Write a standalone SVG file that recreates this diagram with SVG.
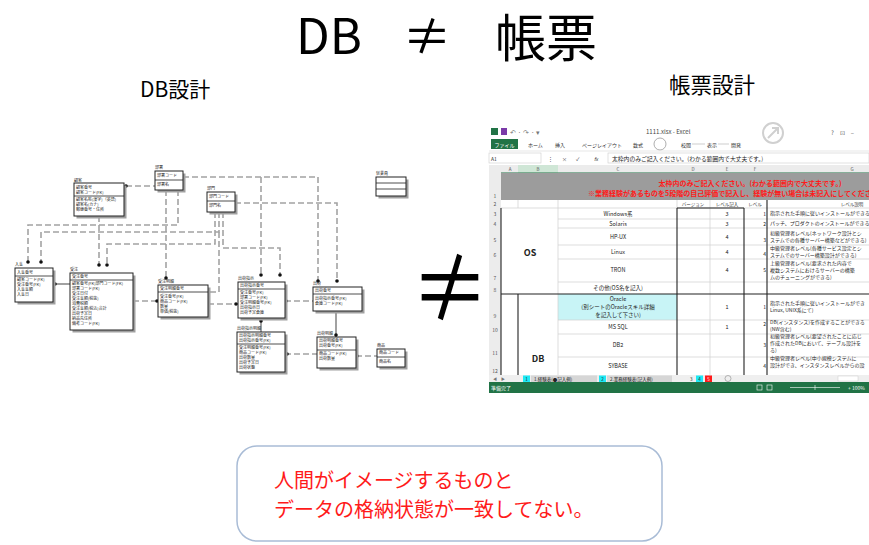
<svg xmlns="http://www.w3.org/2000/svg" width="869" height="545" viewBox="0 0 869 545">
<style>
text{font-family:"Noto Sans CJK JP","Noto Sans",sans-serif}
.ent .s{fill:#a0a0a0}
.ent .b{fill:#fff;stroke:#222;stroke-width:1}
.ent line{stroke:#222;stroke-width:0.8}
.ent text{font-size:4px;fill:#222}
#connectors path{fill:none;stroke:#a3a3a3;stroke-width:1.6;stroke-dasharray:6 3}
#connectors path.sd{stroke-dasharray:none;stroke:#8a8a8a}
#connectors circle{fill:#111}
.xl{font-size:5px;fill:#333}
.xc{font-size:5.5px;fill:#222;text-anchor:middle}
.xg{font-size:5px;fill:#2a2a2a}
.g{stroke:#cfcfcf;stroke-width:0.7}
.k{stroke:#222;stroke-width:1.1}
.rn{font-size:5px;fill:#555;text-anchor:middle}
</style>

<!-- Title -->
<g id="title">
<text x="296" y="54" font-size="49" fill="#000">DB</text>
<text x="427" y="54" font-size="49" fill="#000" text-anchor="middle">≠</text>
<text x="495" y="57" font-size="51" fill="#000">帳票</text>
</g>
<text x="140" y="97" font-size="21" fill="#000">DB設計</text>
<text x="669" y="93" font-size="21.5" fill="#000">帳票設計</text>

<!-- Connectors of ER diagram -->
<g id="connectors">
<path d="M126 186 H155"/>
<path d="M183 177 H318 V282"/>
<path d="M261 177 V275"/>
<path d="M235 203 H337 V282"/>
<path d="M166 190 V278"/>
<path d="M178 190 V225 H28 V262"/>
<path d="M219 212 V232 H41 V262"/>
<path d="M215 212 V244 H107 V265"/>
<path d="M99 216 V265"/>
<path d="M219 232 V292 H208"/>
<path d="M223 212 V248 H280 V275"/>
<path class="sd" d="M53 284 H70"/>
<path d="M133 301 H158"/>
<path d="M208 304 H238"/>
<path d="M285 301 H313"/>
<path class="sd" d="M261 318 V332"/>
<path class="sd" d="M336 311 V337"/>
<path d="M285 354 H317"/>
<path d="M356 356 H377"/>
<circle cx="126" cy="186" r="1.8"/>
<circle cx="318" cy="281" r="1.8"/>
<circle cx="261" cy="275" r="1.8"/>
<circle cx="337" cy="281" r="1.8"/>
<circle cx="166" cy="278" r="1.8"/>
<circle cx="28" cy="262" r="1.8"/>
<circle cx="41" cy="262" r="1.8"/>
<circle cx="107" cy="265" r="1.8"/>
<circle cx="99" cy="265" r="1.8"/>
<circle cx="208" cy="292" r="1.8"/>
<circle cx="280" cy="275" r="1.8"/>
<circle cx="55" cy="284" r="1.8"/>
<circle cx="157" cy="301" r="1.8"/>
<circle cx="236" cy="304" r="1.8"/>
<circle cx="286" cy="301" r="1.8"/>
<circle cx="261" cy="321" r="1.8"/>
<circle cx="336" cy="335" r="1.8"/>
<circle cx="287" cy="354" r="1.8"/>
<circle cx="357" cy="356" r="1.8"/>
</g>

<!-- ER entities -->
<g id="ent-a" class="ent">
<text x="74" y="182">顧客</text>
<rect class="s" x="76.5" y="185.5" width="50" height="33"/>
<rect class="b" x="74" y="183" width="50" height="33"/>
<text x="76" y="189">顧客番号</text><text x="76" y="194">顧客コード(FK)</text>
<line x1="74" y1="196" x2="124" y2="196"/>
<text x="76" y="201">顧客名称(漢字)（英語)</text><text x="76" y="206">顧客名(カナ)</text><text x="76" y="211">郵便番号・住所</text>
</g>
<g id="ent-b" class="ent">
<text x="155" y="169">部署</text>
<rect class="s" x="157.5" y="173.5" width="28" height="19"/>
<rect class="b" x="155" y="171" width="28" height="19"/>
<text x="157" y="177">部署コード</text>
<line x1="155" y1="180" x2="183" y2="180"/>
<text x="157" y="186">部署名</text>
</g>
<g id="ent-c" class="ent">
<text x="207" y="190">部門</text>
<rect class="s" x="209.5" y="194.5" width="28" height="20"/>
<rect class="b" x="207" y="192" width="28" height="20"/>
<text x="209" y="198">部門コード</text>
<line x1="207" y1="201" x2="235" y2="201"/>
<text x="209" y="207">部門名</text>
</g>
<g id="ent-d" class="ent">
<text x="15" y="266">入金</text>
<rect class="s" x="17.5" y="270.5" width="38" height="34"/>
<rect class="b" x="15" y="268" width="38" height="34"/>
<text x="17" y="274">入金番号</text>
<line x1="15" y1="276" x2="53" y2="276"/>
<text x="17" y="281">顧客コード(FK)</text><text x="17" y="286">受注番号(FK)</text><text x="17" y="291">入金金額</text><text x="17" y="296">入金日</text>
</g>
<g id="ent-e" class="ent">
<text x="70" y="271">受注</text>
<rect class="s" x="72.5" y="275.5" width="63" height="57"/>
<rect class="b" x="70" y="273" width="63" height="57"/>
<text x="72" y="278">受注番号</text>
<line x1="70" y1="280" x2="133" y2="280"/>
<text x="72" y="285">顧客番号(FK)部門コード(FK)</text><text x="72" y="290">部署コード(FK)</text><text x="72" y="295">受注日付</text><text x="72" y="300">受注金額(税抜)</text><text x="72" y="305">消費税額</text><text x="72" y="310">受注金額(税込)合計</text><text x="72" y="315">出荷予定日</text><text x="72" y="320">納品先住所</text><text x="72" y="325">備考コード(FK)</text>
</g>
<g id="ent-f" class="ent">
<text x="158" y="283">受注明細</text>
<rect class="s" x="160.5" y="287.5" width="50" height="32"/>
<rect class="b" x="158" y="285" width="50" height="32"/>
<text x="160" y="290">受注明細番号</text>
<line x1="158" y1="292" x2="208" y2="292"/>
<text x="160" y="298">受注番号(FK)</text><text x="160" y="303">商品コード(FK)</text><text x="160" y="308">数量</text><text x="160" y="313">単価(税抜)</text>
</g>
<g id="ent-g" class="ent">
<text x="376" y="175">従業員</text>
<rect class="s" x="378.5" y="179.5" width="30" height="19"/>
<rect class="b" x="376" y="177" width="30" height="19"/>
<line x1="376" y1="183" x2="406" y2="183"/>
<line x1="376" y1="189" x2="406" y2="189"/>
</g>
<g id="ent-h" class="ent">
<text x="238" y="280">出荷指示</text>
<rect class="s" x="240.5" y="284.5" width="47" height="36"/>
<rect class="b" x="238" y="282" width="47" height="36"/>
<text x="240" y="287">出荷指示番号</text>
<line x1="238" y1="289" x2="285" y2="289"/>
<text x="240" y="294">受注番号(FK)</text><text x="240" y="299">部署コード(FK)</text><text x="240" y="304">受注明細番号(FK)</text><text x="240" y="309">出荷指示日</text><text x="240" y="314">出荷予定倉庫</text>
</g>
<g id="ent-i" class="ent">
<text x="313" y="285">出荷</text>
<rect class="s" x="315.5" y="289.5" width="49" height="24"/>
<rect class="b" x="313" y="287" width="49" height="24"/>
<text x="315" y="292">出荷番号</text>
<line x1="313" y1="294" x2="362" y2="294"/>
<text x="315" y="300">出荷指示番号(FK)</text><text x="315" y="305">倉庫コード(FK)</text>
</g>
<g id="ent-j" class="ent">
<text x="237" y="330">出荷指示明細</text>
<rect class="s" x="239.5" y="334.5" width="48" height="40"/>
<rect class="b" x="237" y="332" width="48" height="40"/>
<text x="239" y="337">出荷指示明細番号</text><text x="239" y="342">出荷指示番号(FK)</text>
<line x1="237" y1="344" x2="285" y2="344"/>
<text x="239" y="349">受注明細番号(FK)</text><text x="239" y="354">商品コード(FK)</text><text x="239" y="359">出荷数量</text><text x="239" y="364">出荷予定日</text><text x="239" y="369">出荷状態</text>
</g>
<g id="ent-k" class="ent">
<text x="317" y="335">出荷明細</text>
<rect class="s" x="319.5" y="339.5" width="39" height="31"/>
<rect class="b" x="317" y="337" width="39" height="31"/>
<text x="319" y="342">出荷明細番号</text><text x="319" y="347">出荷番号(FK)</text>
<line x1="317" y1="350" x2="356" y2="350"/>
<text x="319" y="355">商品コード(FK)</text><text x="319" y="360">出荷数量</text>
</g>
<g id="ent-l" class="ent">
<text x="377" y="347">商品</text>
<rect class="s" x="379.5" y="351.5" width="28" height="18"/>
<rect class="b" x="377" y="349" width="28" height="18"/>
<text x="379" y="354">商品コード</text>
<line x1="377" y1="357" x2="405" y2="357"/>
<text x="379" y="363">商品名</text>
</g>

<!-- Big not-equal sign -->
<text x="450" y="318" font-size="78" fill="#000" text-anchor="middle" transform="translate(0,-60) scale(1,1.2)">≠</text>

<!-- Spreadsheet screenshot -->
<g id="sheet">
<rect x="489" y="125" width="380" height="268" fill="#fff"/>
<rect x="491" y="128" width="7" height="7" fill="#217346"/>
<rect x="501" y="128" width="6" height="7" fill="#7a3aa8"/>
<text x="510" y="135" font-size="7" fill="#777">↶ · ↷ · ▾</text>
<text x="646" y="134" font-size="6" fill="#444">1111.xlsx - Excel</text>
<circle cx="773" cy="133" r="10" fill="none" stroke="#d0d0d0" stroke-width="2"/>
<path d="M768 138 L778 128 M772 128 H778 V134" fill="none" stroke="#d0d0d0" stroke-width="2"/>
<text x="831" y="135" font-size="6" fill="#555">?　⊡　–</text>
<rect x="491" y="139" width="27" height="10" fill="#217346"/>
<text x="504.5" y="146.5" font-size="5" fill="#fff" text-anchor="middle">ファイル</text>
<text x="528" y="146.5" class="xl">ホーム</text>
<text x="555" y="146.5" class="xl">挿入</text>
<text x="582" y="146.5" class="xl">ページレイアウト</text>
<text x="633" y="146.5" class="xl">数式</text>
<circle cx="660" cy="144" r="6" fill="none" stroke="#999" stroke-width="0.8"/>
<text x="681" y="146.5" class="xl">校閲</text>
<text x="707" y="146.5" class="xl">表示</text>
<text x="731" y="146.5" class="xl">開発</text>
<line x1="692" y1="144" x2="705" y2="144" stroke="#999" stroke-width="0.5"/>
<line x1="718" y1="144" x2="729" y2="144" stroke="#999" stroke-width="0.5"/>
<line x1="489" y1="151" x2="869" y2="151" stroke="#ddd" stroke-width="0.7"/>
<rect x="489" y="153" width="52" height="10" fill="#fff" stroke="#ccc" stroke-width="0.6"/>
<text x="491" y="160.5" class="xl">A1</text>
<text x="548" y="160.5" class="xl">⋮</text>
<text x="562" y="160.5" class="xl">×</text>
<text x="576" y="160.5" class="xl">✓</text>
<text x="594" y="160.5" class="xl" font-style="italic">fx</text>
<rect x="608" y="153" width="261" height="10" fill="#fff" stroke="#ccc" stroke-width="0.6"/>
<text x="612" y="160.5" font-size="5.8" fill="#222">太枠内のみご記入ください。(わかる範囲内で大丈夫です。)</text>
<!-- column headers -->
<rect x="489" y="165" width="380" height="8" fill="#ececec"/>
<rect x="518" y="165" width="40" height="8" fill="#cfe6d6"/>
<line x1="501" y1="173" x2="869" y2="173" stroke="#217346" stroke-width="1"/>
<g font-size="4.5" fill="#555" text-anchor="middle">
<text x="510" y="171">A</text><text x="538" y="171">B</text><text x="618" y="171">C</text><text x="693" y="171">D</text><text x="727" y="171">E</text><text x="755" y="171">F</text><text x="852" y="171">G</text>
</g>
<!-- row headers -->
<rect x="489" y="173" width="12" height="202" fill="#ececec"/>
<g class="rn">
<text x="495" y="198">1</text><text x="495" y="206">2</text><text x="495" y="216">3</text><text x="495" y="226">4</text><text x="495" y="242">5</text><text x="495" y="257">6</text><text x="495" y="280">7</text><text x="495" y="292">8</text><text x="495" y="318">9</text><text x="495" y="332">10</text><text x="495" y="355">11</text><text x="495" y="373">12</text>
</g>
<!-- row 1 banner -->
<rect x="501" y="173" width="368" height="27" fill="#9c9c9c"/>
<text x="750" y="185.5" font-size="7" font-weight="bold" fill="#ff1a1a" text-anchor="middle">太枠内のみご記入ください。(わかる範囲内で大丈夫です。)</text>
<text x="588" y="196" font-size="7" font-weight="bold" fill="#ff1a1a">※業務経験があるものを5段階の自己評価で記入し、経験が無い場合は未記入にしてください。</text>
<!-- cyan cell -->
<rect x="558" y="294" width="119" height="26" fill="#c8f4f6"/>
<!-- grid lines -->
<g class="g">
<line x1="501" y1="208" x2="869" y2="208"/>
<line x1="558" y1="219" x2="869" y2="219"/>
<line x1="558" y1="228" x2="869" y2="228"/>
<line x1="558" y1="245" x2="869" y2="245"/>
<line x1="558" y1="259" x2="869" y2="259"/>
<line x1="558" y1="282" x2="869" y2="282"/>
<line x1="558" y1="320" x2="869" y2="320"/>
<line x1="558" y1="334" x2="869" y2="334"/>
<line x1="558" y1="357" x2="869" y2="357"/>
<line x1="518" y1="200" x2="518" y2="208"/>
<line x1="558" y1="200" x2="558" y2="375"/>
<line x1="710" y1="200" x2="710" y2="375"/>
<line x1="677" y1="200" x2="677" y2="208"/>
</g>
<g class="k">
<line x1="501" y1="208" x2="501" y2="375"/>
<line x1="501" y1="294" x2="869" y2="294"/>
<line x1="518" y1="294" x2="518" y2="375"/>
<line x1="677" y1="208" x2="677" y2="375"/>
<line x1="744" y1="208" x2="744" y2="375"/>
<line x1="767" y1="200" x2="767" y2="375"/>
<line x1="677" y1="208" x2="744" y2="208"/>
</g>
<!-- header row 2 -->
<g font-size="4.5" fill="#333" text-anchor="middle">
<text x="693" y="206">バージョン</text><text x="727" y="206">レベル記入</text><text x="755" y="206">レベル</text><text x="852" y="206">レベル説明</text>
</g>
<!-- OS / DB -->
<text x="530" y="256" font-size="9" font-weight="bold" fill="#222" text-anchor="middle">OS</text>
<text x="538" y="362" font-size="9" font-weight="bold" fill="#222" text-anchor="middle">DB</text>
<!-- column C -->
<g class="xc">
<text x="618" y="216">Windows系</text>
<text x="618" y="226">Solaris</text>
<text x="618" y="239">HP-UX</text>
<text x="618" y="254">Linux</text>
<text x="618" y="272">TRON</text>
<text x="618" y="290">その他(OS名を記入)</text>
<text x="618" y="301">Oracle</text>
<text x="618" y="309">(別シートのOracleスキル詳細</text>
<text x="618" y="317">を記入して下さい)</text>
<text x="618" y="329">MS SQL</text>
<text x="618" y="347">DB2</text>
<text x="618" y="368">SYBASE</text>
</g>
<!-- column E -->
<g class="xc">
<text x="727" y="216">3</text><text x="727" y="226">3</text><text x="727" y="239">4</text><text x="727" y="254">4</text><text x="727" y="272">4</text><text x="727" y="309">1</text><text x="727" y="329">1</text>
</g>
<!-- column F -->
<g font-size="5" fill="#222" text-anchor="end">
<text x="766" y="216">1</text><text x="766" y="226">2</text><text x="766" y="242">3</text><text x="766" y="256">4</text><text x="766" y="272">5</text><text x="766" y="309">1</text><text x="766" y="326">2</text><text x="766" y="347">3</text><text x="766" y="368">4</text>
</g>
<!-- column G -->
<g class="xg">
<text x="770" y="215">指示された手順に従いインストールができる</text>
<text x="770" y="225">パッチ、プロダクトのインストールができる</text>
<text x="770" y="235">初級管理者レベル(ネットワーク設計とシ</text>
<text x="770" y="242">ステムでの各種サーバー構築などができる)</text>
<text x="770" y="250">中級管理者レベル(各種サービス設定とシ</text>
<text x="770" y="257">ステムでのサーバー構築設計ができる)</text>
<text x="770" y="265">上級管理者レベル(要求された内容で</text>
<text x="770" y="272">複数システムにおけるサーバーの構築</text>
<text x="770" y="279">ムのチューニングができる)</text>
<text x="770" y="305">指示された手順に従いインストールができ</text>
<text x="770" y="312">Linux, UNIX系にて)</text>
<text x="770" y="324">DB(インスタンス)を作成することができる</text>
<text x="770" y="331">(NW含む)</text>
<text x="770" y="338">初級管理者レベル(要望されたことに応じ</text>
<text x="770" y="345">作成されたDBにおいて、テーブル設計を</text>
<text x="770" y="352">る)</text>
<text x="770" y="360">中級管理者レベル(中小規模システムに</text>
<text x="770" y="367">設計ができ、インスタンスレベルからの設</text>
</g>
<!-- sheet tabs -->
<rect x="489" y="375" width="380" height="7" fill="#efefef"/>
<text x="493" y="380.5" font-size="4" fill="#777">◀　▶</text>
<rect x="523" y="375.5" width="7" height="6.5" fill="#1de9f5"/>
<text x="526.5" y="380.5" font-size="4.5" fill="#222" text-anchor="middle">1</text>
<rect x="531" y="375.5" width="66" height="6.5" fill="#d6d6d6"/>
<text x="534" y="380.5" font-size="4.5" fill="#222">1.経験表(●記入例)</text>
<rect x="599" y="375.5" width="7" height="6.5" fill="#1de9f5"/>
<text x="602.5" y="380.5" font-size="4.5" fill="#222" text-anchor="middle">2</text>
<rect x="607" y="375.5" width="65" height="6.5" fill="#d6d6d6"/>
<text x="610" y="380.5" font-size="4.5" fill="#222">2.業務経験表(記入例)</text>
<text x="690" y="380.5" font-size="4.5" fill="#222">3</text>
<rect x="696" y="375.5" width="7" height="6.5" fill="#1de9f5"/>
<text x="699.5" y="380.5" font-size="4.5" fill="#222" text-anchor="middle">4</text>
<rect x="705" y="375.5" width="7" height="6.5" fill="#ff1a1a"/>
<text x="708.5" y="380.5" font-size="4.5" fill="#fff" text-anchor="middle">5</text>
<circle cx="728" cy="378.5" r="3" fill="none" stroke="#888" stroke-width="0.6"/>
<rect x="838" y="376" width="20" height="5" fill="#fff" stroke="#ccc" stroke-width="0.5"/>
<!-- status bar -->
<rect x="489" y="382" width="380" height="11" fill="#217346"/>
<text x="491" y="389.5" font-size="5" fill="#fff">準備完了</text>
<g stroke="#fff" stroke-width="0.6" fill="none">
<rect x="757" y="385" width="5" height="5"/>
<rect x="767" y="385" width="5" height="5"/>
<line x1="790" y1="387.5" x2="840" y2="387.5"/>
<line x1="815" y1="385" x2="815" y2="390"/>
</g>
<text x="848" y="389.5" font-size="5" fill="#fff">+ 100%</text>
</g>

<!-- Bottom note -->
<g id="note">
<rect x="237" y="446" width="425" height="95" rx="20" ry="20" fill="#fff" stroke="#a9bcd6" stroke-width="1.5"/>
<text x="274" y="488" font-size="20" fill="#ff1a1a">人間がイメージするものと</text>
<text x="274" y="517" font-size="20" fill="#ff1a1a">データの格納状態が一致してない。</text>
</g>
</svg>
